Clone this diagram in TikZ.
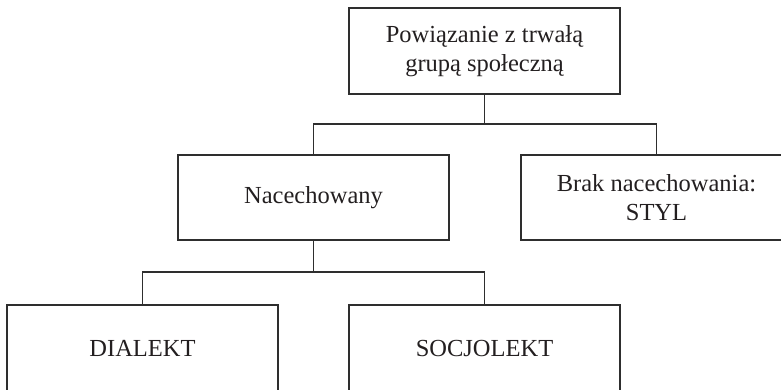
\documentclass[tikz,border=0pt]{standalone}
\usepackage{fontspec}
\setmainfont{Liberation Serif}
\definecolor{ink}{HTML}{231F20}
\definecolor{edge}{HTML}{2E2E2E}
\begin{document}
\begin{tikzpicture}[x=1pt,y=-1pt,
  box/.style={draw=edge, line width=1.6pt, minimum width=271pt, minimum height=86pt,
    inner sep=0pt, align=center, text=ink,
    font=\fontsize{24.5}{29.5}\selectfont},
  link/.style={draw=edge, line width=1.4pt}]
\useasboundingbox (0,0) rectangle (781,389);
\node[box] (top) at (484.5,51) {Powiązanie z trwałą\\grupą społeczną};
\node[box, minimum height=85pt] (nac) at (313.5,197.5) {Nacechowany};
\node[box, minimum height=85pt] (brak) at (656.5,197.5) {Brak nacechowania:\\STYL};
\node[box] (dia) at (142.5,348) {DIALEKT};
\node[box] (soc) at (484.5,348) {SOCJOLEKT};
\coordinate (j1) at (484.5,124);
\coordinate (j2) at (313.5,272);
\draw[link] (top.south) -- (j1);
\draw[link] (nac.north) |- (j1) -| (brak.north);
\draw[link] (nac.south) -- (j2);
\draw[link] (dia.north) |- (j2) -| (soc.north);
\end{tikzpicture}
\end{document}
